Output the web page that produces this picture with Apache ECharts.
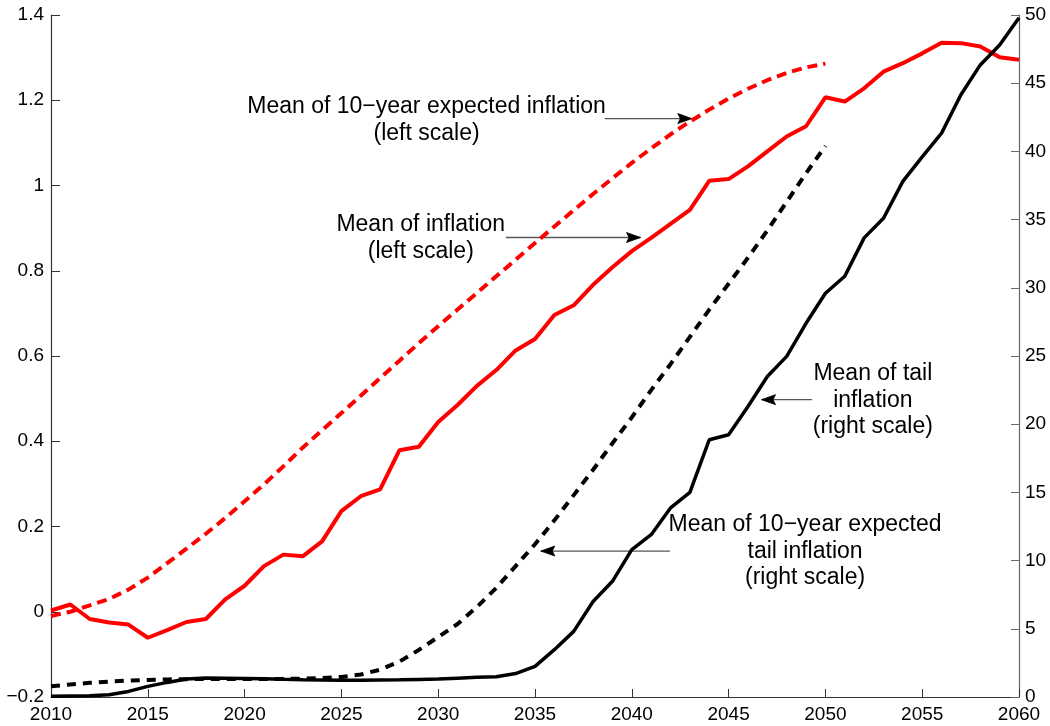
<!DOCTYPE html>
<html>
<head>
<meta charset="utf-8">
<script src="https://cdn.jsdelivr.net/npm/echarts@6/dist/echarts.min.js"></script>
<style>
  html, body { margin: 0; padding: 0; background: #fff; }
  #chart { width: 1050px; height: 726px; }
</style>
</head>
<body>
<div id="chart"></div>
<script>
// Years on the horizontal axis
var years = [];
for (var y = 2010; y <= 2060; y++) years.push(y);
var expYears = years.slice(0, 41); // 2010 .. 2050

// Left scale series
var inflationMean = [0.003, 0.017, -0.017, -0.025, -0.030, -0.061, -0.043, -0.024, -0.017, 0.029,
  0.061, 0.107, 0.134, 0.130, 0.165, 0.236, 0.271, 0.287, 0.379, 0.387,
  0.445, 0.485, 0.530, 0.567, 0.613, 0.640, 0.696, 0.719, 0.767, 0.808,
  0.846, 0.877, 0.910, 0.943, 1.011, 1.015, 1.045, 1.080, 1.115, 1.139,
  1.207, 1.197, 1.228, 1.267, 1.287, 1.310, 1.335, 1.334, 1.326, 1.301, 1.295];
var expInflationMean = [-0.010, 0.000, 0.015, 0.030, 0.052, 0.080, 0.114, 0.148, 0.183, 0.220,
  0.259, 0.299, 0.341, 0.385, 0.426, 0.466, 0.507, 0.548, 0.589, 0.630,
  0.670, 0.709, 0.748, 0.787, 0.826, 0.865, 0.904, 0.942, 0.980, 1.017,
  1.053, 1.087, 1.120, 1.150, 1.178, 1.204, 1.227, 1.247, 1.264, 1.277, 1.286];

// Right scale series
var tailMean = [0.05, 0.08, 0.10, 0.17, 0.41, 0.78, 1.07, 1.32, 1.39, 1.38,
  1.36, 1.34, 1.30, 1.27, 1.25, 1.22, 1.22, 1.24, 1.26, 1.29,
  1.32, 1.38, 1.44, 1.49, 1.72, 2.25, 3.47, 4.81, 7.00, 8.48,
  10.8, 11.9, 13.86, 15.0, 18.86, 19.23, 21.3, 23.5, 24.97, 27.4,
  29.6, 30.85, 33.66, 35.1, 37.8, 39.6, 41.34, 44.15, 46.34, 47.8, 49.8];
var expTailMean = [0.78, 0.92, 1.04, 1.13, 1.20, 1.25, 1.29, 1.31, 1.32, 1.32,
  1.32, 1.32, 1.33, 1.35, 1.39, 1.47, 1.65, 2.00, 2.60, 3.45,
  4.40, 5.35, 6.60, 8.00, 9.60, 11.2, 12.95, 14.8, 16.66, 18.6,
  20.5, 22.5, 24.4, 26.4, 28.4, 30.3, 32.2, 34.2, 36.3, 38.4, 40.4];

// Annotations: text lines, text centre, arrow start and tip (in data units; axis = which y scale)
var notes = [
  { lines: ['Mean of 10\u2212year expected inflation', '(left scale)'], axis: 0,
    text: [2029.4, 1.153], from: [2038.6, 1.157], to: [2043.1, 1.157] },
  { lines: ['Mean of inflation', '(left scale)'], axis: 0,
    text: [2029.1, 0.877], from: [2033.5, 0.878], to: [2040.45, 0.878] },
  { lines: ['Mean of tail', 'inflation', '(right scale)'], axis: 1,
    text: [2052.45, 21.74], from: [2049.3, 21.8], to: [2046.7, 21.8] },
  { lines: ['Mean of 10\u2212year expected', 'tail inflation', '(right scale)'], axis: 1,
    text: [2048.95, 10.67], from: [2041.97, 10.7], to: [2035.3, 10.7] }
];

function pairs(xs, vs) { return vs.map(function (v, i) { return [xs[i], v]; }); }

var FONT = '"Liberation Sans", Arial, Helvetica, sans-serif';
var chart = echarts.init(document.getElementById('chart'), null, { renderer: 'canvas' });

chart.setOption({
  animation: false,
  backgroundColor: '#ffffff',
  grid: { left: 51, right: 31, top: 15, bottom: 29, containLabel: false, outerBoundsMode: 'none' },
  xAxis: {
    type: 'value', min: 2010, max: 2060, interval: 5,
    axisLine: { show: true, onZero: false, lineStyle: { color: '#333', width: 1.2 } },
    axisTick: { show: true, inside: true, length: 8, lineStyle: { color: '#333', width: 1 } },
    axisLabel: {
      color: '#000', fontSize: 19, fontFamily: FONT, margin: 8,
      formatter: function (v) { return String(Math.round(v)); }
    },
    splitLine: { show: false }
  },
  yAxis: [{
    type: 'value', position: 'left', min: -0.2, max: 1.4, interval: 0.2,
    axisLine: { show: true, onZero: false, lineStyle: { color: '#333', width: 1.2 } },
    axisTick: { show: true, inside: true, length: 9, lineStyle: { color: '#333', width: 1 } },
    axisLabel: {
      color: '#000', fontSize: 19, fontFamily: FONT, margin: 7,
      formatter: function (v) { return String(Math.round(v * 10) / 10).replace('-', '\u2212'); }
    },
    splitLine: { show: false }
  }, {
    type: 'value', position: 'right', min: 0, max: 50, interval: 5,
    axisLine: { show: true, onZero: false, lineStyle: { color: '#666', width: 1.2 } },
    axisTick: { show: true, inside: true, length: 8, lineStyle: { color: '#666', width: 1 } },
    axisLabel: { color: '#000', fontSize: 19, fontFamily: FONT, margin: 6 },
    splitLine: { show: false }
  }],
  series: [
    { name: 'Mean of 10-year expected inflation', type: 'line', yAxisIndex: 0, showSymbol: false, symbol: 'none',
      data: pairs(expYears, expInflationMean),
      lineStyle: { color: '#ff0000', width: 4, type: [10, 6] } },
    { name: 'Mean of inflation', type: 'line', yAxisIndex: 0, showSymbol: false, symbol: 'none',
      data: pairs(years, inflationMean),
      lineStyle: { color: '#ff0000', width: 4 } },
    { name: 'Mean of 10-year expected tail inflation', type: 'line', yAxisIndex: 1, showSymbol: false, symbol: 'none',
      data: pairs(expYears, expTailMean),
      lineStyle: { color: '#000000', width: 4, type: [9, 7] } },
    { name: 'Mean of tail inflation', type: 'line', yAxisIndex: 1, showSymbol: false, symbol: 'none',
      data: pairs(years, tailMean),
      lineStyle: { color: '#000000', width: 3.5 } }
  ]
});

// Annotation text and arrows, placed through the axes' own scales
function px(pt, axis) {
  return chart.convertToPixel({ xAxisIndex: 0, yAxisIndex: axis }, pt);
}
var elements = [];
var LINE_H = 26.6;
notes.forEach(function (n) {
  var c = px(n.text, n.axis);
  var top = c[1] - (n.lines.length - 1) * LINE_H / 2;
  n.lines.forEach(function (t, i) {
    elements.push({
      type: 'text', silent: true,
      style: {
        text: t, x: c[0], y: top + i * LINE_H,
        font: '23px ' + FONT, fill: '#000',
        textAlign: 'center', textVerticalAlign: 'middle',
        align: 'center', verticalAlign: 'middle'
      }
    });
  });
  var a = px(n.from, n.axis), b = px(n.to, n.axis);
  elements.push({
    type: 'line', silent: true,
    shape: { x1: a[0], y1: a[1], x2: b[0], y2: b[1] },
    style: { stroke: '#555', lineWidth: 1.3 }
  });
  var dir = b[0] > a[0] ? 1 : -1;
  elements.push({
    type: 'polygon', silent: true,
    shape: { points: [[b[0], b[1]], [b[0] - dir * 14, b[1] - 5], [b[0] - dir * 11.5, b[1]], [b[0] - dir * 14, b[1] + 5]] },
    style: { fill: '#000', stroke: '#000', lineWidth: 0.8, lineJoin: 'miter' }
  });
});
chart.setOption({ graphic: { elements: elements } });
</script>
</body>
</html>
